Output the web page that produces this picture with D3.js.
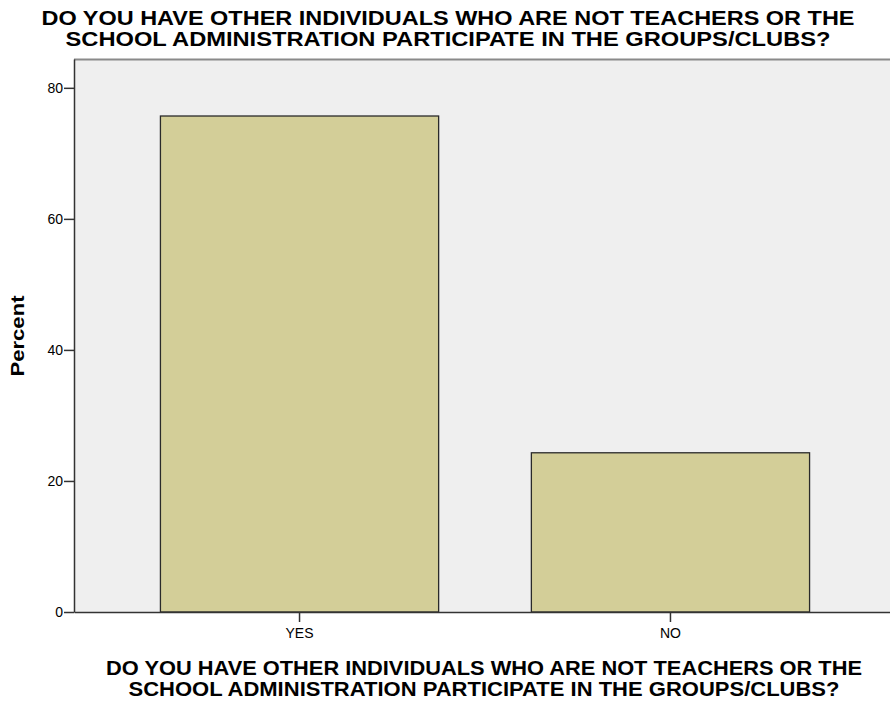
<!DOCTYPE html>
<html>
<head>
<meta charset="utf-8">
<script src="https://cdn.jsdelivr.net/npm/d3@7"></script>
<style>
  body { margin: 0; background: #fff; }
  svg { display: block; font-family: "Liberation Sans", Arial, sans-serif; }
  .title { font-weight: bold; fill: #000; }
  .tick text { font-size: 14px; fill: #000; }
</style>
</head>
<body>
<script>
// data
var categories = ["YES", "NO"];
var percents = [75.7, 24.3];
var yTicks = [0, 20, 40, 60, 80];
var titleLines = ["DO YOU HAVE OTHER INDIVIDUALS WHO ARE NOT TEACHERS OR THE",
                  "SCHOOL ADMINISTRATION PARTICIPATE IN THE GROUPS/CLUBS?"];

var width = 890, height = 702;
var plotLeft = 74, plotRight = 896, plotTop = 59, plotBottom = 612;

let svg = d3.select("body").append("svg")
    .attr("width", width)
    .attr("height", height);

// scales
var x = d3.scaleBand()
    .domain(categories)
    .range([plotLeft, plotRight])
    .paddingInner(0.25)
    .paddingOuter(0.233);

var y = d3.scaleLinear()
    .domain([0, 84.4])
    .range([plotBottom, plotTop]);

// plot background
svg.append("rect")
    .attr("x", plotLeft)
    .attr("y", plotTop)
    .attr("width", plotRight - plotLeft)
    .attr("height", plotBottom - plotTop)
    .attr("fill", "#efefef");

svg.append("line")
    .attr("x1", plotLeft).attr("x2", plotRight)
    .attr("y1", plotTop + 0.5).attr("y2", plotTop + 0.5)
    .attr("stroke", "#8a8a8a")
    .attr("stroke-width", 2);

// bars
svg.selectAll(".bar")
    .data(percents)
    .enter().append("rect")
    .attr("class", "bar")
    .attr("x", function(d, i) { return x(categories[i]); })
    .attr("y", function(d) { return y(d); })
    .attr("width", x.bandwidth())
    .attr("height", function(d) { return y(0) - y(d); })
    .attr("fill", "#d3ce98")
    .attr("stroke", "#2a2a2a")
    .attr("stroke-width", 1.3);

// axes
var yAxis = d3.axisLeft(y).tickValues(yTicks).tickSize(10).tickPadding(1).tickSizeOuter(0);
var gy = svg.append("g")
    .attr("transform", "translate(" + plotLeft + ",0)")
    .call(yAxis);
gy.select(".domain").attr("stroke", "#333").attr("stroke-width", 1.5);
gy.selectAll(".tick line").attr("stroke", "#333").attr("stroke-width", 1.5);

var xAxis = d3.axisBottom(x).tickSize(10).tickPadding(6).tickSizeOuter(0);
var gx = svg.append("g")
    .attr("transform", "translate(0," + plotBottom + ")")
    .call(xAxis);
gx.select(".domain").attr("stroke", "#333").attr("stroke-width", 1.5);
gx.selectAll(".tick line").attr("stroke", "#333").attr("stroke-width", 1.5);

// titles (widths)
var topWidths = [813, 765];
var bottomWidths = [756, 711];

svg.selectAll(".toptitle")
    .data(titleLines)
    .enter().append("text")
    .attr("class", "title")
    .style("font-size", "20px")
    .attr("x", 448)
    .attr("y", function(d, i) { return 25 + i * 21; })
    .attr("text-anchor", "middle")
    .attr("textLength", function(d, i) { return topWidths[i]; })
    .attr("lengthAdjust", "spacingAndGlyphs")
    .text(function(d) { return d; });

svg.selectAll(".xtitle")
    .data(titleLines)
    .enter().append("text")
    .attr("class", "title")
    .style("font-size", "20px")
    .attr("x", 484)
    .attr("y", function(d, i) { return 675 + i * 21; })
    .attr("text-anchor", "middle")
    .attr("textLength", function(d, i) { return bottomWidths[i]; })
    .attr("lengthAdjust", "spacingAndGlyphs")
    .text(function(d) { return d; });

svg.append("text")
    .text("Percent")
    .attr("class", "title")
    .style("font-size", "18px")
    .attr("textLength", 81)
    .attr("lengthAdjust", "spacingAndGlyphs")
    .attr("transform", "translate(24,336) rotate(-90)")
    .attr("text-anchor", "middle");
</script>
</body>
</html>
